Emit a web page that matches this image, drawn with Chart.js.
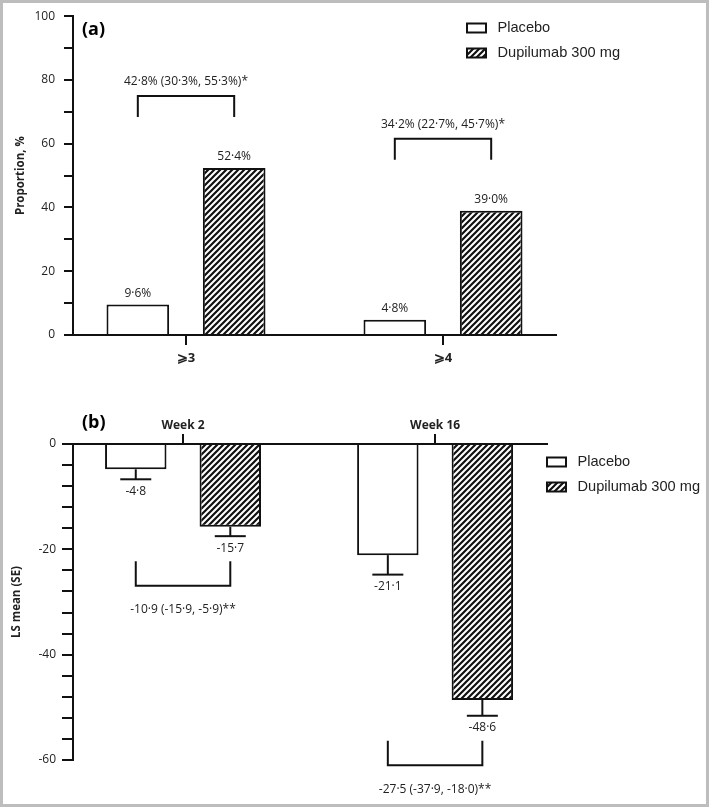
<!DOCTYPE html>
<html lang="en">
<head>
<meta charset="UTF-8">
<title>Dupilumab vs placebo</title>
<script src="https://cdn.jsdelivr.net/npm/chart.js"></script>
<style>
    html, body { margin: 0; padding: 0; background: #fff; }
    .figure { position: relative; width: 709px; height: 807px; overflow: hidden; }
    .figure canvas { position: absolute; left: 0; }
    #panelA { top: 0; }
    #panelB { top: 380px; }
    .frame { position: absolute; inset: 0; border: 3px solid #bdbdbd; box-sizing: border-box; pointer-events: none; }
</style>
</head>
<body>
<div class="figure">
    <canvas id="panelA" width="709" height="380"></canvas>
    <canvas id="panelB" width="709" height="427"></canvas>
    <div class="frame"></div>
</div>
<script>
    // (a) proportion of responders
    const responderGroups = ['⩾3', '⩾4'];
    const placeboResponders = [9.6, 4.8];
    const dupilumabResponders = [52.4, 39.0];
    const responderDiffs = ['42·8% (30·3%, 55·3%)*', '34·2% (22·7%, 45·7%)*'];

    // (b) LS mean change
    const weeks = ['Week 2', 'Week 16'];
    const placeboChange = [-4.8, -21.1];
    const dupilumabChange = [-15.7, -48.6];
    const placeboSE = [1.9, 3.7];
    const dupilumabSE = [1.8, 3.0];
    const changeDiffs = ['-10·9 (-15·9, -5·9)**', '-27·5 (-37·9, -18·0)**'];

    const seriesNames = ['Placebo', 'Dupilumab 300 mg'];
    const INK = '#111';
    const TEXT = '#222';

    function hatchPattern() {
        const s = 6;
        const c = document.createElement('canvas');
        c.width = c.height = s;
        const g = c.getContext('2d');
        g.fillStyle = '#fff';
        g.fillRect(0, 0, s, s);
        g.strokeStyle = INK;
        g.lineWidth = 2.2;
        g.beginPath();
        g.moveTo(-1, 1); g.lineTo(1, -1);
        g.moveTo(-1, s + 1); g.lineTo(s + 1, -1);
        g.moveTo(s - 1, s + 1); g.lineTo(s + 1, s - 1);
        g.stroke();
        return g.createPattern(c, 'repeat');
    }
    const hatch = hatchPattern();

    const fmt = v => v.toFixed(1).replace('.', '·');

    function seg(ctx, x1, y1, x2, y2) {
        ctx.beginPath();
        ctx.moveTo(x1, y1);
        ctx.lineTo(x2, y2);
        ctx.stroke();
    }

    // error bars, value labels, brackets, legend, panel letter
    const figureMarks = {
        id: 'figureMarks',
        afterDatasetsDraw(chart, args, o) {
            const ctx = chart.ctx;
            const y = chart.scales.y;
            ctx.save();
            ctx.strokeStyle = INK;
            ctx.fillStyle = TEXT;
            ctx.lineWidth = 2;
            ctx.textAlign = 'center';
            ctx.textBaseline = 'middle';
            ctx.font = '12px "Open Sans"';

            const ends = [];
            chart.data.datasets.forEach((ds, d) => {
                const bars = chart.getDatasetMeta(d).data;
                ends[d] = [];
                bars.forEach((bar, i) => {
                    const v = ds.data[i].y;
                    if (o.se) {
                        const end = y.getPixelForValue(v - o.se[d][i]);
                        seg(ctx, bar.x, bar.y, bar.x, end);
                        seg(ctx, bar.x - 15.5, end, bar.x + 15.5, end);
                        ends[d][i] = end;
                        ctx.fillText(fmt(v), bar.x, end + 12);
                    } else {
                        ends[d][i] = bar.y;
                        ctx.fillText(fmt(v) + '%', bar.x, bar.y - 11);
                    }
                });
            });

            // brackets
            const p = chart.getDatasetMeta(0).data;
            const q = chart.getDatasetMeta(1).data;
            o.diffs.forEach((txt, i) => {
                const x1 = p[i].x, x2 = q[i].x;
                let y1, y2, ty;
                if (o.se) {
                    y1 = ends[1][i] + 25;
                    y2 = y1 + 24.5;
                    ty = y2 + 24;
                } else {
                    y1 = ends[1][i] - 51;
                    y2 = y1 - 21;
                    ty = y2 - 14;
                }
                ctx.beginPath();
                ctx.moveTo(x1, y1);
                ctx.lineTo(x1, y2);
                ctx.lineTo(x2, y2);
                ctx.lineTo(x2, y1);
                ctx.stroke();
                ctx.fillText(txt, (x1 + x2) / 2, ty);
            });

            // legend
            const L = o.legend;
            ctx.textAlign = 'left';
            ctx.font = '14.6px "Liberation Sans"';
            chart.data.datasets.forEach((ds, d) => {
                const cy = L.y + d * L.gap;
                ctx.fillStyle = ds.backgroundColor;
                ctx.fillRect(L.x, cy - 4.5, 19, 9);
                ctx.strokeRect(L.x, cy - 4.5, 19, 9);
                ctx.fillStyle = TEXT;
                ctx.fillText(ds.label, L.x + 30.5, cy);
            });

            ctx.font = 'bold 18px "Open Sans"';
            ctx.fillStyle = '#000';
            ctx.fillText(o.letter.text, o.letter.x, o.letter.y);
            ctx.restore();
        }
    };

    function datasets(a, b) {
        return [
            { label: seriesNames[0], data: a.map((v, i) => ({ x: i + 1, y: v })), backgroundColor: '#fff' },
            { label: seriesNames[1], data: b.map((v, i) => ({ x: i + 1, y: v })), backgroundColor: hatch }
        ].map(ds => Object.assign(ds, {
            borderColor: INK, borderWidth: 2, borderSkipped: 'start',
            categoryPercentage: 0.75, barPercentage: 0.65
        }));
    }

    function panel(id, cfg) {
        new Chart(document.getElementById(id), {
            type: 'bar',
            data: { datasets: datasets(cfg.a, cfg.b) },
            options: {
                responsive: false,
                animation: false,
                events: [],
                layout: { padding: cfg.padding },
                plugins: {
                    legend: { display: false },
                    tooltip: { enabled: false },
                    figureMarks: cfg.marks
                },
                scales: {
                    x: {
                        type: 'linear',
                        position: cfg.xPos,
                        offset: false,
                        min: cfg.xMin, max: cfg.xMax,
                        afterBuildTicks: s => { s.ticks = cfg.labels.map((_, i) => ({ value: i + 1 })); },
                        afterFit: s => { s.height = cfg.xHeight; },
                        grid: { offset: false, drawOnChartArea: false, color: INK, lineWidth: 2, tickLength: 10 },
                        border: { color: INK, width: 2 },
                        ticks: {
                            color: TEXT, padding: cfg.xPad,
                            font: { family: 'Open Sans', size: cfg.xFont, weight: 'bold' },
                            callback: v => cfg.labels[v - 1]
                        }
                    },
                    y: {
                        min: cfg.yMin, max: cfg.yMax,
                        afterFit: s => { s.width = 73; },
                        grid: { drawOnChartArea: false, color: INK, lineWidth: 2, tickLength: cfg.tickLen },
                        border: { color: INK, width: 2 },
                        ticks: {
                            stepSize: cfg.step, autoSkip: false, color: TEXT, padding: cfg.tickPad,
                            font: { family: 'Open Sans', size: 12 },
                            callback: v => (v % 20 === 0 ? String(v) : '')
                        },
                        title: {
                            display: true, text: cfg.yTitle, color: TEXT,
                            font: { family: 'Open Sans', size: 11.5, weight: 'bold' },
                            padding: { top: cfg.titlePad, bottom: 0 }
                        }
                    }
                }
            },
            plugins: [figureMarks]
        });
    }

    panel('panelA', {
        a: placeboResponders, b: dupilumabResponders, labels: responderGroups,
        padding: { left: 0, top: 15, right: 153, bottom: 0 },
        xPos: 'bottom', xMin: 0.5603, xMax: 2.4397, xHeight: 45, xFont: 13, xPad: 5,
        yMin: 0, yMax: 100, step: 10, tickLen: 9, tickPad: 9, titlePad: 14,
        yTitle: 'Proportion, %',
        marks: {
            diffs: responderDiffs,
            legend: { x: 467, y: 28, gap: 25 },
            letter: { text: '(a)', x: 82, y: 30 }
        }
    });

    panel('panelB', {
        a: placeboChange, b: dupilumabChange, labels: weeks,
        padding: { left: 0, top: 0, right: 162, bottom: 47 },
        xPos: 'top', xMin: 0.5635, xMax: 2.444, xHeight: 64, xFont: 12, xPad: 1,
        yMin: -60, yMax: 0, step: 4, tickLen: 11, tickPad: 6, titlePad: 10,
        yTitle: 'LS mean (SE)',
        marks: {
            se: [placeboSE, dupilumabSE],
            diffs: changeDiffs,
            legend: { x: 547, y: 82, gap: 25 },
            letter: { text: '(b)', x: 82, y: 43 }
        }
    });
</script>
</body>
</html>
